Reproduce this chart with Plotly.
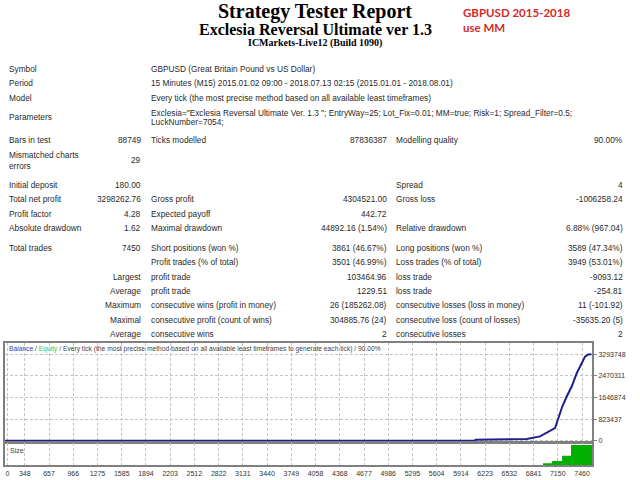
import plotly.graph_objects as go

# --- report text -------------------------------------------------------------
TITLE = "Strategy Tester Report"
EA_NAME = "Exclesia Reversal Ultimate ver 1.3"
SERVER = "ICMarkets-Live12 (Build 1090)"
NOTE_LINES = ["GBPUSD 2015-2018", "use MM"]

INFO_LABELS = ["Symbol", "Period", "Model", "Parameters"]
INFO_VALUES = [
    ["GBPUSD (Great Britain Pound vs US Dollar)"],
    ["15 Minutes (M15) 2015.01.02 09:00 - 2018.07.13 02:15 (2015.01.01 - 2018.08.01)"],
    ["Every tick (the most precise method based on all available least timeframes)"],
    ['Exclesia="Exclesia Reversal Ultimate Ver. 1.3 "; EntryWay=25; Lot_Fix=0.01; MM=true; Risk=1; Spread_Filter=0.5;',
     "LuckNumber=7054;"],
]

STAT_LABEL1 = ["Bars in test", "Mismatched charts<br>errors", "Initial deposit", "Total net profit",
               "Profit factor", "Absolute drawdown", "Total trades", "", "", "", "", "", ""]
STAT_VALUE1 = ["88749", "29", "180.00", "3298262.76", "4.28", "1.62", "7450", "",
               "Largest", "Average", "Maximum", "Maximal", "Average"]
STAT_LABEL2 = ["Ticks modelled", "", "", "Gross profit", "Expected payoff", "Maximal drawdown",
               "Short positions (won %)", "Profit trades (% of total)", "profit trade", "profit trade",
               "consecutive wins (profit in money)", "consecutive profit (count of wins)", "consecutive wins"]
STAT_VALUE2 = ["87836387", "", "", "4304521.00", "442.72", "44892.16 (1.54%)", "3861 (46.67%)",
               "3501 (46.99%)", "103464.96", "1229.51", "26 (185262.08)", "304885.76 (24)", "2"]
STAT_LABEL3 = ["Modelling quality", "", "Spread", "Gross loss", "", "Relative drawdown",
               "Long positions (won %)", "Loss trades (% of total)", "loss trade", "loss trade",
               "consecutive losses (loss in money)", "consecutive loss (count of losses)", "consecutive losses"]
STAT_VALUE3 = ["90.00%", "", "4", "-1006258.24", "", "6.88% (967.04)", "3589 (47.34%)",
               "3949 (53.01%)", "-9093.12", "-254.81", "11 (-101.92)", "-35635.20 (5)", "2"]

# --- chart data --------------------------------------------------------------
BAL_TRADE = [0, 6090, 6100, 6754, 6924, 7009, 7073, 7115, 7137, 7179, 7208, 7264,
             7328, 7392, 7456, 7498, 7540, 7580]
BAL_VALUE = [180, 180, 35000, 65000, 163000, 293000, 391000, 483000, 673000, 1053000,
             1303000, 1683000, 2063000, 2573000, 2953000, 3203000, 3290000, 3298442]

SIZE_TRADE = [0, 6962, 7077, 7205, 7319, 7590]
SIZE_LOTS = [0.01, 3.9, 9.1, 21, 45.5, 45.5]

X_TICKS = [0, 348, 657, 966, 1275, 1585, 1894, 2203, 2512, 2822, 3131, 3440, 3749,
           4058, 4368, 4677, 4986, 5295, 5604, 5914, 6223, 6532, 6841, 7150, 7460]
Y_TICKS = [0, 823437, 1646874, 2470311, 3293748]
CHART_LEGEND = "Every tick (the most precise method based on all available least timeframes to generate each tick) / 90.00%"

# --- page geometry ------------------------------------------------------------
W, H = 640, 480
L, R, T, B = 5, 48, 343, 15
PW = W - L - R
PH = H - T - B
X_RANGE = [95, 7587]


def px(x):
    return (x - L) / PW


def py(y):
    return (H - B - y) / PH


FONT = "Liberation Sans, Arial, sans-serif"
TXT = "#2a2a2a"
anns = []


def text(x, y, s, size=8.3, anchor="left", color=TXT, family=FONT):
    anns.append(dict(x=px(x), y=py(y), xref="paper", yref="paper", text=s, showarrow=False,
                     xanchor=anchor, yanchor="middle", align=anchor,
                     font=dict(size=size, color=color, family=family)))


serif = "Liberation Serif, Times New Roman, serif"
text(315, 11, "<b>%s</b>" % TITLE, 20, "center", "#000000", serif)
text(315, 29, "<b>%s</b>" % EA_NAME, 16, "center", "#000000", serif)
text(315, 43, "<b>%s</b>" % SERVER, 10, "center", "#000000", serif)
for i, s in enumerate(NOTE_LINES):
    text(461, 12 + i * 15, "<b>%s</b>" % s, 11.5, "left", "#d42a2a", "Lato, sans-serif")

info_y = [69, 83, 98, 117]
for lab, vals, y in zip(INFO_LABELS, INFO_VALUES, info_y):
    text(7, y, lab)
    off = -(len(vals) - 1) * 4.5
    for k, v in enumerate(vals):
        text(149, y + off + k * 9, v)

row_y = [140, 160, 185, 199, 214, 228, 248, 262, 277, 291, 305, 320, 334]
for i, y in enumerate(row_y):
    text(7, y, STAT_LABEL1[i])
    text(143, y, STAT_VALUE1[i], anchor="right")
    text(149, y, STAT_LABEL2[i])
    text(389, y, STAT_VALUE2[i], anchor="right")
    text(394, y, STAT_LABEL3[i])
    text(625, y, STAT_VALUE3[i], anchor="right")

text(7, 349, '<span style="color:#3a3aa8">Balance</span> / <span style="color:#3cc43c">Equity</span> / '
     + CHART_LEGEND, 6.7, color="#444444")
text(8, 450, "Size", 7, color="#444444")

# --- figure ---------------------------------------------------------------------
fig = go.Figure()
fig.add_trace(go.Scatter(x=BAL_TRADE, y=BAL_VALUE, mode="lines", name="Balance",
                         line=dict(color="#1e1e8c", width=2), xaxis="x", yaxis="y"))
fig.add_trace(go.Scatter(x=SIZE_TRADE, y=SIZE_LOTS, mode="lines", name="Size",
                         line=dict(color="#00b000", width=0, shape="hv"),
                         fill="tozeroy", fillcolor="#00b000", xaxis="x2", yaxis="y2"))

grid = dict(showgrid=True, gridcolor="#c4c4c4", gridwidth=1, griddash="3px,2px", zeroline=False,
            showline=True, linecolor="#808080", linewidth=2, mirror=True, automargin=False)
ticks_shown = [max(v, X_RANGE[0] + 30) for v in X_TICKS]
fig.update_layout(
    width=W, height=H,
    margin=dict(l=L, r=R, t=T, b=B),
    paper_bgcolor="white", plot_bgcolor="white",
    showlegend=False,
    annotations=anns,
    xaxis=dict(range=X_RANGE, domain=[0, 1], anchor="y", tickvals=ticks_shown,
               showticklabels=False, ticks="", **grid),
    yaxis=dict(range=[-50000, 3724000], domain=[(H - B - 442) / PH, 1], anchor="x", side="right",
               tickvals=Y_TICKS, ticktext=[str(v) for v in Y_TICKS], ticks="outside", ticklen=3,
               tickcolor="#808080", tickfont=dict(size=7, color="#333333", family=FONT), **grid),
    xaxis2=dict(range=X_RANGE, domain=[0, 1], anchor="y2", tickvals=ticks_shown,
                ticktext=[str(v) for v in X_TICKS], ticks="", ticklabelstandoff=1,
                tickfont=dict(size=7, color="#333333", family=FONT), **grid),
    yaxis2=dict(range=[0, 50], domain=[0, (H - B - 443) / PH], anchor="x2", showticklabels=False,
                ticks="", **dict(grid, showgrid=False)),
)

fig.write_html("out.html", config={"displayModeBar": False},
               post_script="document.body.style.margin='0';document.body.style.overflow='hidden';")
